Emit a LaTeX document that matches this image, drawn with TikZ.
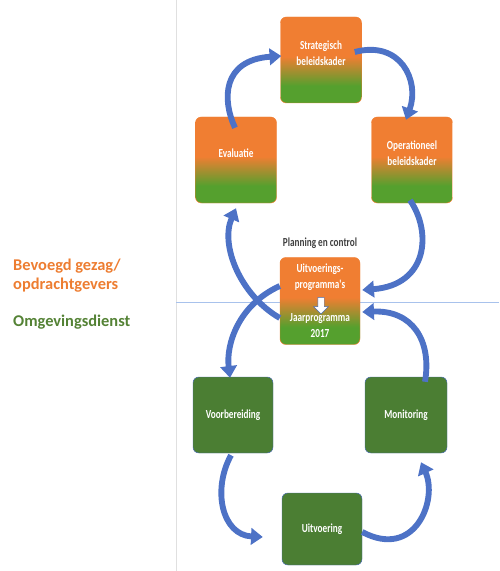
\documentclass[tikz,border=0pt]{standalone}
\usepackage{fontspec}
\setmainfont{Carlito}
\newfontfamily\boxfont[FakeStretch=0.75]{Carlito}
\usetikzlibrary{arrows.meta, shapes.arrows}
\definecolor{boxorange}{HTML}{F07E32}
\definecolor{boxgreen}{HTML}{55A02E}
\definecolor{darkgreen}{HTML}{4B7E33}
\definecolor{arrowblue}{HTML}{4D72C6}
\definecolor{edgeblue}{HTML}{4A6CB0}
\definecolor{lineblue}{HTML}{A8C2EC}
\definecolor{textorange}{HTML}{ED7D31}
\definecolor{textgreen}{HTML}{548235}
\pgfdeclareverticalshading{orangegreen}{100bp}{color(0bp)=(boxgreen); color(35bp)=(boxgreen); color(52bp)=(boxorange); color(100bp)=(boxorange)}

\begin{document}
\begin{tikzpicture}[x=0.03cm, y=-0.03cm,
  box/.style={rounded corners=5pt, minimum width=2.43cm, inner sep=0pt, align=center, text=white,
    font=\boxfont\bfseries\fontsize{10.5}{13.5}\selectfont},
  planbox/.style={box, minimum height=2.58cm, shading=orangegreen, draw=boxorange},
  raised/.style={text depth=12pt},
  workbox/.style={box, minimum height=2.28cm, fill=darkgreen, draw=edgeblue},
  flow/.style={line width=5pt, draw=arrowblue, -{Triangle[width=14pt,length=10pt]}},
  side/.style={anchor=west, inner sep=0pt, align=left, font=\bfseries\fontsize{14}{16}\selectfont}]
\useasboundingbox (0,0) rectangle (499,571);

\draw[black!12] (176,0) -- (176,571);
\draw[lineblue] (176,302) -- (499,302);

\node[side, text=textorange] (gezag) at (13,276) {Bevoegd gezag/\\opdrachtgevers};
\node[side, text=textgreen] (dienst) at (13,322) {Omgevingsdienst};

\node[planbox, raised] (strat) at (321,60) {Strategisch\\beleidskader};
\node[planbox, raised] (eval) at (236,160) {Evaluatie};
\node[planbox, raised] (oper) at (412,160) {Operationeel\\beleidskader};
\node[box, text=black!75] (plan) at (320,243) {Planning en control};
\node[planbox, minimum width=2.4cm, minimum height=2.61cm] (uitv) at (320,301)
  {Uitvoerings-\\programma's\\[15pt]Jaarprogramma\\2017};
\node[single arrow, draw=edgeblue, fill=white, rotate=-90, inner sep=0.09cm,
  single arrow head extend=0.12cm, minimum height=0.5cm] (down) at (321,304) {};
\node[workbox, minimum width=2.4cm] (voor) at (233,415) {Voorbereiding};
\node[workbox, minimum width=2.46cm] (moni) at (406,415) {Monitoring};
\node[workbox, minimum width=2.4cm, minimum height=2.16cm] (uitvo) at (322,529) {Uitvoering};

\draw[flow] ([shift={(-1,11)}]eval.north) .. controls (222,100) and (222,60) .. ([shift={(1,-4)}]strat.west);
\draw[flow] ([shift={(-7,-8)}]strat.east) .. controls (400,40) and (420,80) .. ([shift={(-6,3)}]oper.north);
\draw[flow] ([shift={(-2,-3)}]oper.south) .. controls (432,232) and (428,285) .. ([shift={(2,-11)}]uitv.east);
\draw[flow] ([shift={(19,5)}]moni.north) .. controls (432,340) and (412,310) .. ([shift={(2,11)}]uitv.east);
\draw[flow] ([shift={(0,17)}]uitv.west) .. controls (240,295) and (220,245) .. ([shift={(0,5)}]eval.south);
\draw[flow] ([shift={(0,-15)}]uitv.west) .. controls (238,305) and (226,345) .. ([shift={(-3,1)}]voor.north);
\draw[flow] ([shift={(-2,2)}]voor.south) .. controls (212,490) and (222,535) .. ([shift={(-19,8)}]uitvo.west);
\draw[flow] ([shift={(0,3)}]uitvo.east) .. controls (415,560) and (438,500) .. ([shift={(15,9)}]moni.south);
\end{tikzpicture}
\end{document}
